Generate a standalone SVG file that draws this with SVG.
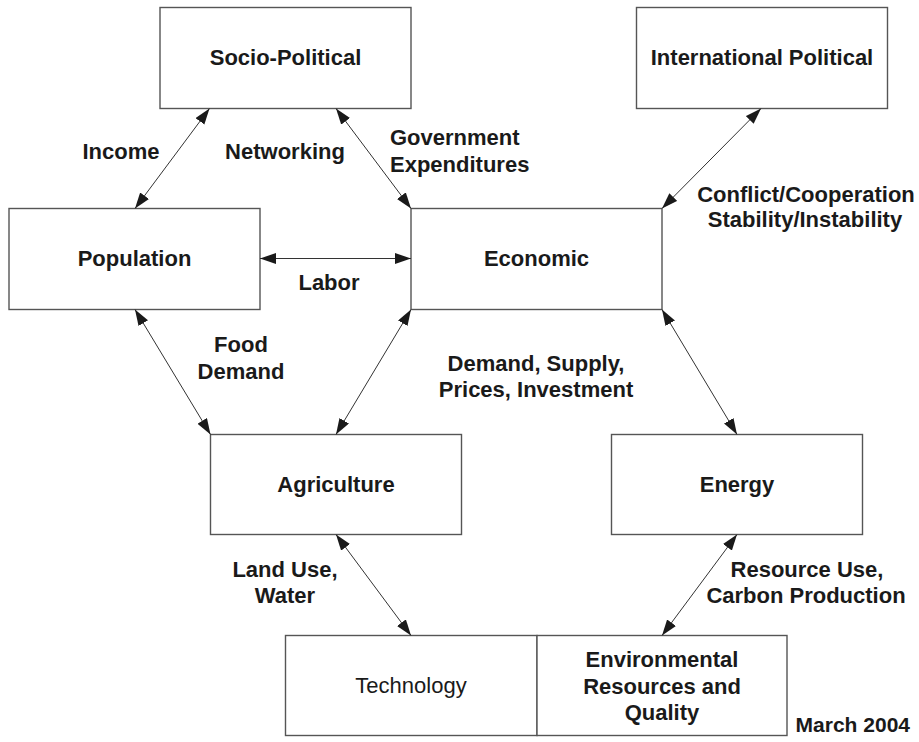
<svg xmlns="http://www.w3.org/2000/svg" width="919" height="742" viewBox="0 0 919 742">
<defs>
<marker id="ah" markerUnits="userSpaceOnUse" markerWidth="17" markerHeight="12" refX="16" refY="5.5" orient="auto-start-reverse" viewBox="0 0 17 12">
<path d="M0,0 L16,5.5 L0,11 Z" fill="#1a1a1a"/>
</marker>
<style>
.box{fill:#fff;stroke:#555;stroke-width:1.4}
.t{font-family:"Liberation Sans",Arial,sans-serif;font-size:22px;font-weight:bold;fill:#1a1a1a;text-anchor:middle}
.r{font-weight:normal}
.c{stroke:#333;stroke-width:1;fill:none;marker-start:url(#ah);marker-end:url(#ah)}
</style>
</defs>
<rect width="919" height="742" fill="#fff"/>
<g id="socio-political"><rect class="box" x="160" y="7.5" width="251" height="101"/><text class="t" x="285.5" y="65">Socio-Political</text></g>
<g id="international-political"><rect class="box" x="636.5" y="7.5" width="251" height="101"/><text class="t" x="762" y="65">International Political</text></g>
<g id="population"><rect class="box" x="9" y="208.5" width="251" height="101"/><text class="t" x="134.5" y="266">Population</text></g>
<g id="economic"><rect class="box" x="411" y="208.5" width="251" height="101"/><text class="t" x="536.5" y="266">Economic</text></g>
<g id="agriculture"><rect class="box" x="210.5" y="434.5" width="251" height="100"/><text class="t" x="336" y="491.5">Agriculture</text></g>
<g id="energy"><rect class="box" x="611.5" y="434.5" width="251" height="100"/><text class="t" x="737" y="491.5">Energy</text></g>
<g id="technology"><rect class="box" x="285.5" y="635.5" width="251.5" height="100"/><text class="t r" x="411" y="693">Technology</text></g>
<g id="environmental"><rect class="box" x="537" y="635.5" width="250" height="100"/><text class="t" x="662" y="667">Environmental</text><text class="t" x="662" y="694">Resources and</text><text class="t" x="662" y="720">Quality</text></g>
<g id="connectors">
<line class="c" x1="209.5" y1="108.5" x2="135" y2="208.5"/>
<line class="c" x1="336" y1="108.5" x2="411" y2="208.5"/>
<line class="c" x1="761" y1="108.5" x2="662" y2="208.5"/>
<line class="c" x1="260" y1="258.5" x2="411" y2="258.5"/>
<line class="c" x1="135" y1="309.5" x2="210.5" y2="434.5"/>
<line class="c" x1="411" y1="309.5" x2="336" y2="434.5"/>
<line class="c" x1="662" y1="309.5" x2="737" y2="434.5"/>
<line class="c" x1="336" y1="534.5" x2="411" y2="635.5"/>
<line class="c" x1="737" y1="534.5" x2="662" y2="635.5"/>
</g>
<g id="labels">
<text class="t" x="121" y="159">Income</text>
<text class="t" x="285" y="159">Networking</text>
<text class="t" x="390" y="145" style="text-anchor:start">Government</text>
<text class="t" x="390" y="172" style="text-anchor:start">Expenditures</text>
<text class="t" x="806" y="202">Conflict/Cooperation</text>
<text class="t" x="805" y="227">Stability/Instability</text>
<text class="t" x="329" y="290">Labor</text>
<text class="t" x="241" y="352">Food</text>
<text class="t" x="241" y="379">Demand</text>
<text class="t" x="536" y="371">Demand, Supply,</text>
<text class="t" x="536" y="397">Prices, Investment</text>
<text class="t" x="285" y="577">Land Use,</text>
<text class="t" x="285" y="603">Water</text>
<text class="t" x="807" y="577">Resource Use,</text>
<text class="t" x="806" y="603">Carbon Production</text>
<text class="t" x="910" y="732" style="text-anchor:end;font-size:21px">March 2004</text>
</g>
</svg>
